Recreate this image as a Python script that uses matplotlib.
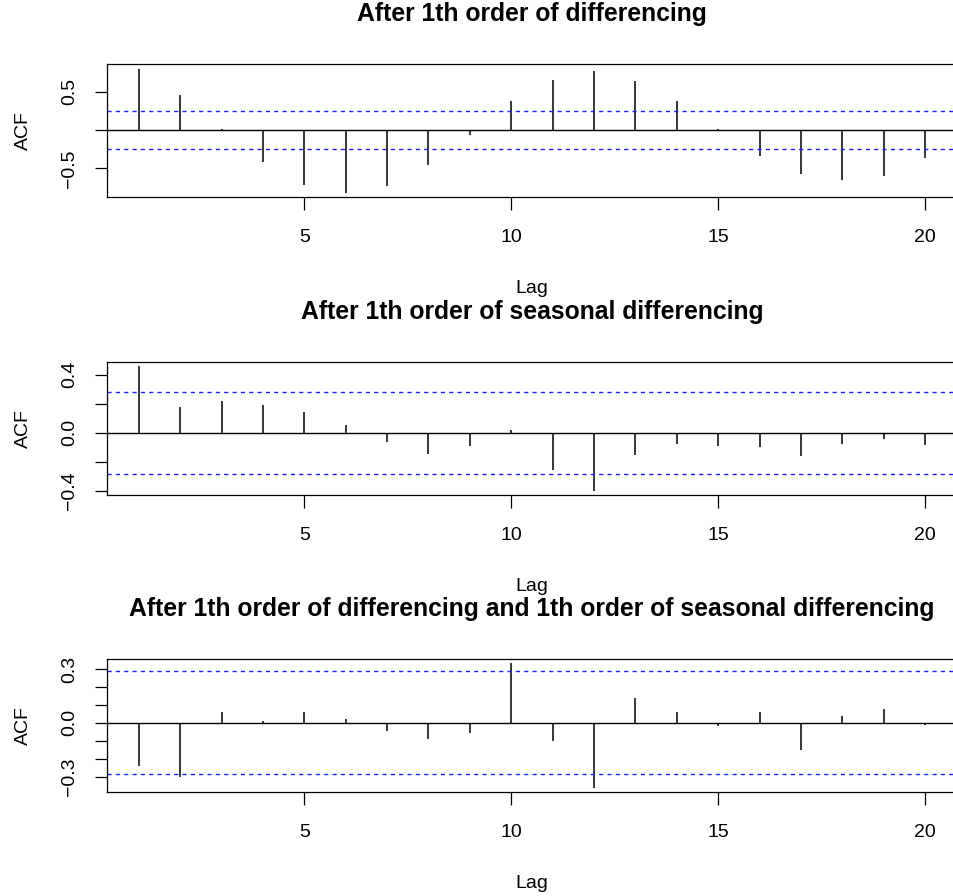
import numpy as np
import matplotlib.pyplot as plt

plt.rcParams['font.family'] = ['Liberation Sans', 'DejaVu Sans']

# ---------------- DATA ----------------
lags = np.arange(1, 21)

acf_diff = [0.796, 0.461, 0.013, -0.422, -0.722, -0.822, -0.735, -0.452, -0.06, 0.374,
            0.652, 0.770, 0.643, 0.374, 0.013, -0.343, -0.570, -0.648, -0.596, -0.361]
acf_sdiff = [0.46, 0.179, 0.218, 0.191, 0.143, 0.051, -0.067, -0.145, -0.09, 0.018,
             -0.257, -0.40, -0.154, -0.08, -0.094, -0.099, -0.159, -0.076, -0.041, -0.087]
acf_both = [-0.238, -0.301, 0.061, 0.009, 0.058, 0.024, -0.043, -0.089, -0.058, 0.331,
            -0.10, -0.361, 0.136, 0.063, -0.015, 0.063, -0.149, 0.037, 0.078, -0.013]

conf_limits = [0.253, 0.283, 0.286]  # 1.96 / sqrt(n)

titles = ["After 1th order of differencing",
          "After 1th order of seasonal differencing",
          "After 1th order of differencing and 1th order of seasonal differencing"]

yticks = [[-0.5, 0.0, 0.5],
          [-0.4, -0.2, 0.0, 0.2, 0.4],
          [-0.3, -0.2, -0.1, 0.0, 0.1, 0.2, 0.3]]
ytick_labels = [["\u22120.5", "", "0.5"],
                ["\u22120.4", "", "0.0", "", "0.4"],
                ["\u22120.3", "", "", "0.0", "", "", "0.3"]]
ylims = [(-0.874, 0.861), (-0.428, 0.49), (-0.383, 0.357)]

series = [acf_diff, acf_sdiff, acf_both]

# ---------------- PLOTTING ----------------
W, H = 954, 896
fig = plt.figure(figsize=(W / 100, H / 100), dpi=100)

ax_left, ax_right = 107.3, 956.5
ax_tops = [64, 361.7, 658.7]
ax_h = 133

for i, vals in enumerate(series):
    top = ax_tops[i]
    ax = fig.add_axes([ax_left / W, 1 - (top + ax_h) / H, (ax_right - ax_left) / W, ax_h / H])
    ax.vlines(lags, 0, vals, color='black', linewidth=1.1)
    ax.axhline(0, color='black', linewidth=1.0)
    c = conf_limits[i]
    for yv in (c, -c):
        ax.axhline(yv, color='#2020ff', linewidth=1.0, linestyle=(0, (3, 3)))
    ax.set_xlim(0.24, 20.76)
    ax.set_ylim(*ylims[i])
    ax.set_xticks([5, 10, 15, 20])
    ax.set_xticklabels(["5", "10", "15", "20"])
    ax.set_yticks(yticks[i])
    ax.set_yticklabels(ytick_labels[i])
    ax.tick_params(axis='both', direction='out', length=9, width=0.9, labelsize=14)
    ax.tick_params(axis='x', pad=14)
    ax.tick_params(axis='y', pad=12)
    for lbl in ax.get_yticklabels():
        lbl.set_rotation(90)
        lbl.set_va('center')
    for sp in ax.spines.values():
        sp.set_linewidth(0.9)

    xc = (ax_left + ax_right) / 2
    fig.text(xc / W, 1 - (top - 43) / H, titles[i], ha='center', va='baseline',
             fontsize=17.8, fontweight='bold')
    fig.text(xc / W, 1 - (top + ax_h + 96) / H, "Lag", ha='center', va='baseline', fontsize=14)
    fig.text(23 / W, 1 - (top + ax_h / 2) / H, "ACF", ha='center', va='center',
             rotation=90, fontsize=14)

fig.savefig("out.png", dpi=100)
